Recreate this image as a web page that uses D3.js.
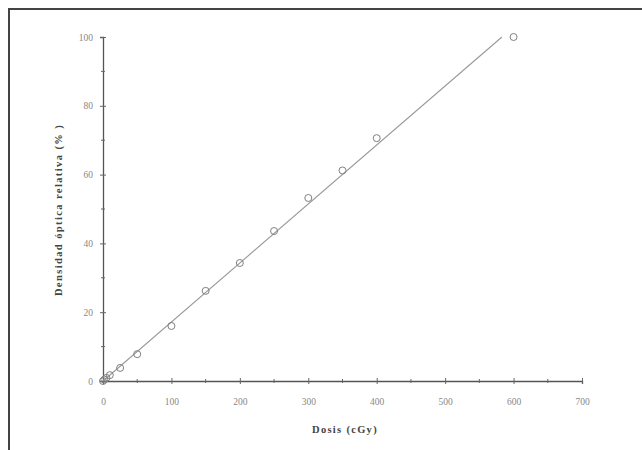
<!DOCTYPE html>
<html>
<head>
<meta charset="utf-8">
<script src="https://cdn.jsdelivr.net/npm/d3@7"></script>
<style>
  body { margin: 0; background: #fff; }
  svg { display: block; }
  .tick text { font-family: "Liberation Serif", "DejaVu Serif", serif; }
</style>
</head>
<body>
<div id="chart"></div>
<script>
// measured points: dose (cGy) vs relative optical density (%)
var doses = [0, 2, 5, 10, 25, 50, 100, 150, 200, 250, 300, 350, 400, 600];
var density = [0, 0.4, 0.9, 1.7, 3.8, 7.8, 16, 26.2, 34.3, 43.6, 53.2, 61.2, 70.6, 100];
// fitted straight line end points
var fitX = [0, 583];
var fitY = [0, 100];
var xTicks = [0, 100, 200, 300, 400, 500, 600, 700];
var yTicks = [0, 20, 40, 60, 80, 100];
var xMinor = [50, 150, 250, 350, 450, 550, 650];
var yMinor = [10, 30, 50, 70, 90];

var W = 642, H = 450;
var margin = {top: 37, right: 60, bottom: 69, left: 103},
    width = W - margin.left - margin.right,
    height = H - margin.top - margin.bottom;

var svgRoot = d3.select("#chart")
  .append("svg")
    .attr("width", W)
    .attr("height", H);

// frame (top and left edges only are visible)
svgRoot.append("path")
  .attr("d", "M9," + H + "V9H" + W)
  .attr("fill", "none")
  .attr("stroke", "#444")
  .attr("stroke-width", 2);

var svg = svgRoot.append("g")
  .attr("transform", "translate(" + margin.left + "," + margin.top + ")");

var x = d3.scaleLinear().domain([0, 700]).range([0, width]);
var y = d3.scaleLinear().domain([0, 100]).range([height, 0]);

// X axis
var gx = svg.append("g")
  .attr("transform", "translate(0," + height + ")")
  .call(d3.axisBottom(x).tickValues(xTicks).tickSize(3).tickPadding(14));
gx.selectAll(".tick line").attr("y1", -3);
gx.append("g").selectAll("line")
  .data(xMinor).enter().append("line")
  .attr("x1", function (d) { return x(d); })
  .attr("x2", function (d) { return x(d); })
  .attr("y1", -2).attr("y2", 2)
  .attr("stroke", "#666");

// Y axis
var gy = svg.append("g")
  .call(d3.axisLeft(y).tickValues(yTicks).tickSize(3).tickPadding(7));
gy.selectAll(".tick line").attr("x1", 3);
gy.append("g").selectAll("line")
  .data(yMinor).enter().append("line")
  .attr("y1", function (d) { return y(d); })
  .attr("y2", function (d) { return y(d); })
  .attr("x1", -2).attr("x2", 2)
  .attr("stroke", "#666");

[gx, gy].forEach(function (g) {
  g.select(".domain").attr("stroke", "#555").attr("stroke-width", 1.3);
  g.selectAll(".tick line").attr("stroke", "#666");
  g.selectAll(".tick text").attr("fill", "#888").style("font-size", "9.5px");
});

// fitted line
svg.append("line")
  .attr("x1", x(fitX[0])).attr("y1", y(fitY[0]))
  .attr("x2", x(fitX[1])).attr("y2", y(fitY[1]))
  .attr("stroke", "#999")
  .attr("stroke-width", 1.1);

// points
svg.append("g")
  .selectAll("circle")
  .data(doses)
  .enter()
  .append("circle")
    .attr("cx", function (d) { return x(d); })
    .attr("cy", function (d, i) { return y(density[i]); })
    .attr("r", 3.5)
    .attr("fill", "none")
    .attr("stroke", "#808080")
    .attr("stroke-width", 1);

// axis titles
svgRoot.append("text")
  .attr("x", 345).attr("y", 433)
  .attr("text-anchor", "middle")
  .style("font-family", "'Liberation Serif', serif")
  .style("font-weight", "bold")
  .style("font-size", "10.5px")
  .style("letter-spacing", "1.3px")
  .attr("fill", "#444")
  .text("Dosis (cGy)");

svgRoot.append("text")
  .attr("transform", "translate(62,210) rotate(-90)")
  .attr("text-anchor", "middle")
  .style("font-family", "'Liberation Serif', serif")
  .style("font-weight", "bold")
  .style("font-size", "10.5px")
  .style("letter-spacing", "1.4px")
  .attr("fill", "#444")
  .text("Densidad óptica relativa (% )");
</script>
</body>
</html>
